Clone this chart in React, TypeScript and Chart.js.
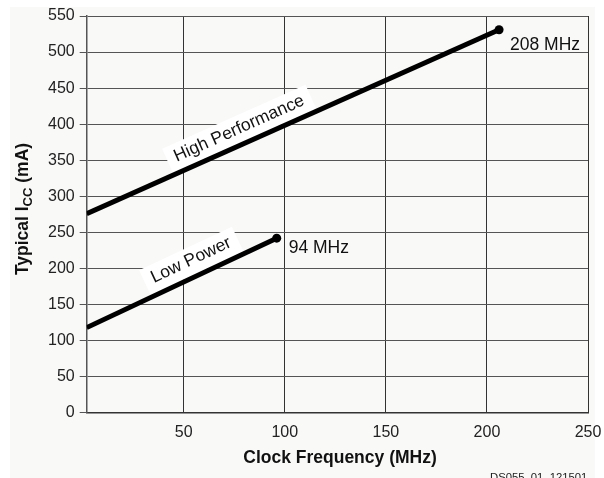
import { useEffect, useRef } from 'react';
import { Chart, registerables } from 'chart.js';

Chart.register(...registerables);

// values
const xTicks = [50, 100, 150, 200, 250];
const yTicks = [0, 50, 100, 150, 200, 250, 300, 350, 400, 450, 500, 550];

const highPerfFreq = [2, 206];
const highPerfIcc = [276, 531];
const lowPowerFreq = [2, 96];
const lowPowerIcc = [118, 242];

const seriesNames = ['High Performance', 'Low Power'];
const endLabels = ['208 MHz', '94 MHz'];

const FONT = '"Liberation Sans", Arial, Helvetica, sans-serif';

const decorPlugin = {
  id: 'decor',
  beforeDraw(chart: any) {
    const { ctx, width, height } = chart;
    ctx.save();
    ctx.fillStyle = '#ffffff';
    ctx.fillRect(0, 0, width, height);
    ctx.fillStyle = '#f9f9f8';
    ctx.fillRect(10, 7, 585, height - 7);
    ctx.restore();
  },
  beforeDatasetsDraw(chart: any) {
    const { ctx } = chart;
    // label positions along each line (fraction of length, offset above it)
    const place = [
      { t: 0.385, off: 15.5 },
      { t: 0.586, off: 16.5 },
    ];
    seriesNames.forEach((name, i) => {
      const pts = chart.getDatasetMeta(i).data;
      const p0 = pts[0];
      const p1 = pts[1];
      const ang = Math.atan2(p1.y - p0.y, p1.x - p0.x);
      const nx = Math.sin(ang);
      const ny = -Math.cos(ang);
      const cx = p0.x + (p1.x - p0.x) * place[i].t + nx * place[i].off;
      const cy = p0.y + (p1.y - p0.y) * place[i].t + ny * place[i].off;
      ctx.save();
      ctx.translate(cx, cy);
      ctx.rotate(ang);
      ctx.font = `17.5px ${FONT}`;
      const w = ctx.measureText(name).width;
      ctx.fillStyle = '#ffffff';
      ctx.fillRect(-w / 2 - 8, -13, w + 16, 13 + place[i].off - 2);
      ctx.fillStyle = '#111';
      ctx.textAlign = 'center';
      ctx.textBaseline = 'middle';
      ctx.fillText(name, 0, 0);
      ctx.restore();
    });
  },
  afterDraw(chart: any) {
    const { ctx } = chart;
    ctx.save();
    ctx.fillStyle = '#111';

    // end-point labels
    const offs = [
      { dx: 11, dy: 15 },
      { dx: 12, dy: 10 },
    ];
    ctx.font = `17.5px ${FONT}`;
    ctx.textAlign = 'left';
    ctx.textBaseline = 'middle';
    endLabels.forEach((txt, i) => {
      const p = chart.getDatasetMeta(i).data[1];
      ctx.fillText(txt, p.x + offs[i].dx, p.y + offs[i].dy);
    });

    // x axis title
    ctx.font = `bold 17.5px ${FONT}`;
    ctx.textAlign = 'center';
    ctx.fillText('Clock Frequency (MHz)', 340, 458);

    // y axis title with subscript
    const mainFont = `bold 17.5px ${FONT}`;
    const subFont = `bold 13px ${FONT}`;
    const parts = [
      { s: 'Typical I', f: mainFont, dy: 0 },
      { s: 'CC', f: subFont, dy: 5 },
      { s: ' (mA)', f: mainFont, dy: 0 },
    ];
    let total = 0;
    parts.forEach((p) => {
      ctx.font = p.f;
      total += ctx.measureText(p.s).width;
    });
    ctx.translate(23, 209);
    ctx.rotate(-Math.PI / 2);
    ctx.textAlign = 'left';
    let x = -total / 2;
    parts.forEach((p) => {
      ctx.font = p.f;
      ctx.fillText(p.s, x, p.dy);
      x += ctx.measureText(p.s).width;
    });
    ctx.restore();

    // figure id, cut off at the bottom edge
    ctx.save();
    ctx.fillStyle = '#222';
    ctx.font = `11.3px ${FONT}`;
    ctx.textAlign = 'left';
    ctx.textBaseline = 'top';
    ctx.fillText('DS055_01_121501', 490, 472);
    ctx.restore();
  },
};

export default function App() {
  const canvasRef = useRef<HTMLCanvasElement>(null);

  useEffect(() => {
    document.body.style.margin = '0';
    if (!canvasRef.current) return;
    const ctx = canvasRef.current.getContext('2d');
    if (!ctx) return;

    const chart = new Chart(ctx, {
      type: 'line',
      data: {
        datasets: [
          {
            label: seriesNames[0],
            data: highPerfFreq.map((f, i) => ({ x: f, y: highPerfIcc[i] })),
            borderColor: '#000',
            borderWidth: 5,
            pointRadius: [0, 4.5],
            pointBackgroundColor: '#000',
            pointBorderWidth: 0,
          },
          {
            label: seriesNames[1],
            data: lowPowerFreq.map((f, i) => ({ x: f, y: lowPowerIcc[i] })),
            borderColor: '#000',
            borderWidth: 5,
            pointRadius: [0, 4.5],
            pointBackgroundColor: '#000',
            pointBorderWidth: 0,
          },
        ],
      },
      options: {
        responsive: false,
        animation: false,
        layout: { padding: { top: 16, right: 16, left: 0, bottom: 0 } },
        plugins: {
          legend: { display: false },
          tooltip: { enabled: false },
        },
        scales: {
          x: {
            type: 'linear',
            min: 2,
            max: 250,
            afterBuildTicks: (scale: any) => {
              scale.ticks = xTicks.map((v) => ({ value: v }));
            },
            afterFit: (scale: any) => {
              scale.height = 65.3;
              scale.paddingLeft = 0;
              scale.paddingRight = 0;
            },
            grid: { color: '#333', lineWidth: 1, drawTicks: false },
            border: { color: '#333', width: 1.5 },
            ticks: {
              color: '#222',
              padding: 10,
              font: { family: FONT, size: 16 },
              maxRotation: 0,
              callback: (v: any) => String(v),
            },
          },
          y: {
            min: 0,
            max: 550,
            afterBuildTicks: (scale: any) => {
              scale.ticks = yTicks.map((v) => ({ value: v }));
            },
            afterFit: (scale: any) => {
              scale.width = 86.7;
              scale.paddingTop = 0;
              scale.paddingBottom = 0;
            },
            grid: { color: '#555', lineWidth: 1, tickLength: 7 },
            border: { color: '#555', width: 1.5 },
            ticks: {
              color: '#222',
              padding: 5,
              font: { family: FONT, size: 16 },
              callback: (v: any) => String(v),
            },
          },
        },
      },
      plugins: [decorPlugin],
    });

    return () => chart.destroy();
  }, []);

  return (
    <div style={{ width: 604, height: 478 }}>
      <canvas ref={canvasRef} width={604} height={478} />
    </div>
  );
}
